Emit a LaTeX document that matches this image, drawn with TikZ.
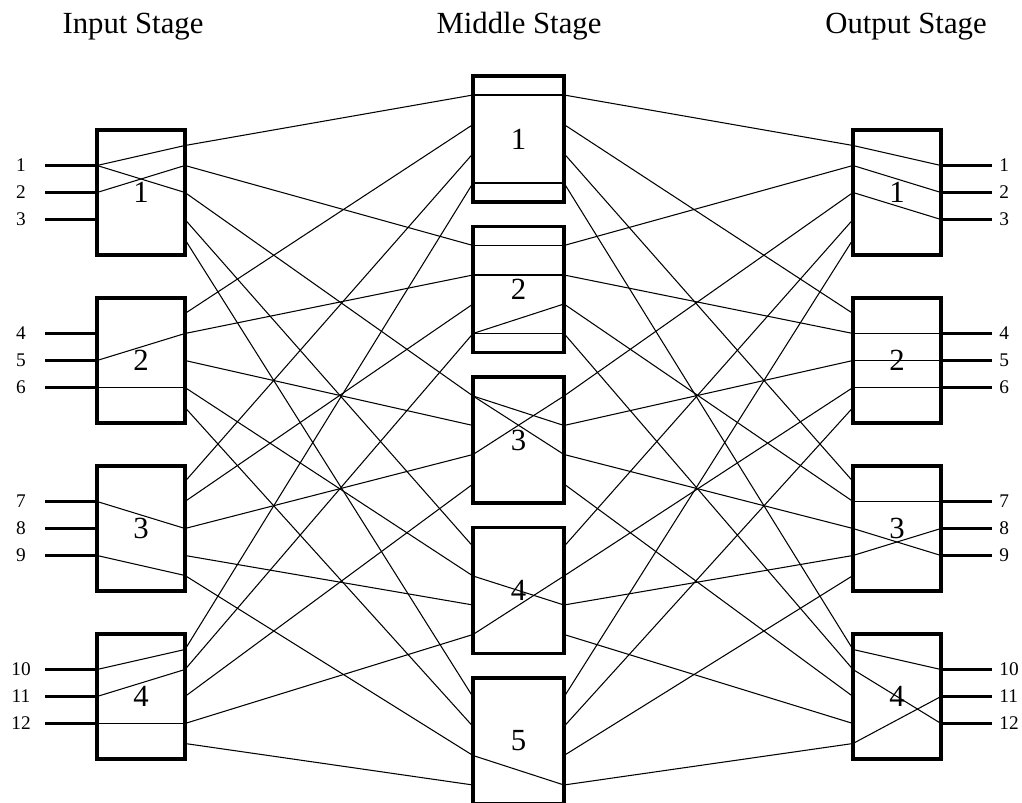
\documentclass[tikz,border=0pt]{standalone}
\usepackage{fontspec}
\setmainfont{Liberation Serif}
\usetikzlibrary{calc,positioning}

\tikzset{
    stagebox/.style={draw,line width=2.2pt,outer sep=0pt,inner sep=0pt,
        minimum width=1.76cm,minimum height=2.5cm,
        font=\fontsize{17.5}{20}\selectfont},
    midbox/.style={stagebox,minimum width=1.82cm,minimum height=2.52cm},
    link/.style={line width=0.6pt},
    portline/.style={line width=1.2pt},
    portlabel/.style={font=\fontsize{11}{13}\selectfont,inner sep=0pt},
    stagetitle/.style={font=\fontsize{17.5}{20}\selectfont,anchor=base,inner sep=0pt}
}

\begin{document}
\begin{tikzpicture}[x=0.02cm,y=-0.02cm]
\useasboundingbox (0,0) rectangle (1022,803);

% Titles
\node[stagetitle] (tin) at (133,34) {Input Stage};
\node[stagetitle] (tmid) at (519,34) {Middle Stage};
\node[stagetitle] (tout) at (906,34) {Output Stage};

% Switches
\foreach \i in {1,...,4}{
    \node[stagebox] (in\i) at (141,{24.5+168*\i}) {\i};
    \node[stagebox] (out\i) at (897,{24.5+168*\i}) {\i};
}
\foreach \j in {1,...,5}{
    \node[midbox] (mid\j) at (518.5,{-11.5+150.5*\j}) {\j};
}

% Ports on the outer switches
\foreach \i in {1,...,4}{
    \foreach \j/\d in {1/-47,2/-27,3/0,4/27,5/47}{
        \coordinate (in\i-o\j) at ($(in\i.east)+(0,\d)$);
        \coordinate (out\i-i\j) at ($(out\i.west)+(0,\d)$);
    }
    \foreach \k/\d in {1/-27,2/0,3/27}{
        \coordinate (in\i-p\k) at ($(in\i.west)+(0,\d)$);
        \coordinate (in\i-t\k) at ($(in\i.west)+(-52,\d)$);
        \coordinate (out\i-p\k) at ($(out\i.east)+(0,\d)$);
        \coordinate (out\i-t\k) at ($(out\i.east)+(51,\d)$);
    }
}

% Ports on the middle switches
\foreach \j in {1,...,5}{
    \foreach \i/\d in {1/-44,2/-14.5,3/14.5,4/44}{
        \coordinate (mid\j-i\i) at ($(mid\j.west)+(0,\d)$);
        \coordinate (mid\j-o\i) at ($(mid\j.east)+(0,\d)$);
    }
}

% Inputs and outputs
\foreach \i in {1,...,4}{
    \foreach \k in {1,2,3}{
        \pgfmathtruncatemacro\n{3*(\i-1)+\k}
        \draw[portline] (in\i-t\k) -- (in\i-p\k);
        \draw[portline] (out\i-p\k) -- (out\i-t\k);
        \node[portlabel] (lin\n) at ($(in\i-t\k)+(-24,0)$) {\n};
        \node[portlabel,anchor=west] (lout\n) at ($(out\i-t\k)+(7,0)$) {\n};
    }
}

% Links between stages
\foreach \i in {1,...,4}{
    \foreach \j in {1,...,5}{
        \draw[link] (in\i-o\j) -- (mid\j-i\i);
        \draw[link] (mid\j-o\i) -- (out\i-i\j);
    }
}

% Routes inside the input switches
\foreach \p/\q in {1/1,1/3,2/2} \draw[link] (in1-p\p) -- (in1-o\q);
\foreach \p/\q in {2/2,3/4} \draw[link] (in2-p\p) -- (in2-o\q);
\foreach \p/\q in {1/3,3/5} \draw[link] (in3-p\p) -- (in3-o\q);
\foreach \p/\q in {1/1,2/2,3/4} \draw[link] (in4-p\p) -- (in4-o\q);

% Routes inside the middle switches
\foreach \p/\q in {1/1,4/4} \draw[link] (mid1-i\p) -- (mid1-o\q);
\foreach \p/\q in {1/1,2/2,4/3,4/4} \draw[link] (mid2-i\p) -- (mid2-o\q);
\foreach \p/\q in {1/2,1/3,3/1} \draw[link] (mid3-i\p) -- (mid3-o\q);
\foreach \p/\q in {2/3,4/2} \draw[link] (mid4-i\p) -- (mid4-o\q);
\foreach \p/\q in {3/4} \draw[link] (mid5-i\p) -- (mid5-o\q);

% Routes inside the output switches
\foreach \p/\q in {1/1,2/2,3/3} \draw[link] (out1-i\p) -- (out1-p\q);
\foreach \p/\q in {2/1,3/2,4/3} \draw[link] (out2-i\p) -- (out2-p\q);
\foreach \p/\q in {2/1,3/3,4/2} \draw[link] (out3-i\p) -- (out3-p\q);
\foreach \p/\q in {1/1,2/3,5/2} \draw[link] (out4-i\p) -- (out4-p\q);

\end{tikzpicture}
\end{document}
